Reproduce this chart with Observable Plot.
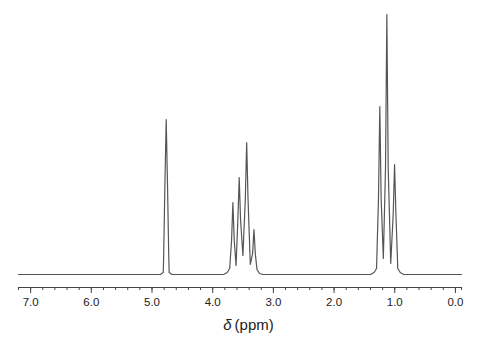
<!DOCTYPE html>
<html><head><meta charset="utf-8">
<script src="https://cdn.jsdelivr.net/npm/d3@7"></script>
<script src="https://cdn.jsdelivr.net/npm/@observablehq/plot@0.6"></script>
<style>
body{margin:0;background:#fff;}
#wrap{width:481px;font-family:"Liberation Sans",Arial,sans-serif;}
#xlabel{width:481px;height:28px;box-sizing:border-box;padding-left:16px;text-align:center;font-size:15px;line-height:30px;color:#222;}
</style></head><body>
<div id="wrap"><div id="chart"></div><div id="xlabel"><i>δ</i>&#8201;(ppm)</div></div>
<script>
// spectrum vertices (ppm, relative intensity)
const baselinePpm = [7.2, -0.1];
const baselineI = [0, 0];
const singletPpm = [4.86, 4.815, 4.808, 4.788, 4.766, 4.744, 4.724, 4.717, 4.67];
const singletI   = [0, 2, 18, 88, 155, 88, 18, 2, 0];
const quartetPpm = [3.82, 3.76, 3.72, 3.689, 3.667, 3.645, 3.615, 3.585, 3.563, 3.541, 3.502, 3.462, 3.440, 3.418, 3.380, 3.342, 3.320, 3.298, 3.27, 3.23, 3.17];
const quartetI   = [0, 2, 6, 34, 72, 34, 9, 55, 97, 55, 19, 76, 132, 76, 10, 21, 45, 21, 5, 1, 0];
const tripletPpm = [1.40, 1.34, 1.30, 1.268, 1.246, 1.224, 1.188, 1.152, 1.130, 1.108, 1.066, 1.025, 1.003, 0.981, 0.95, 0.91, 0.85];
const tripletI   = [0, 2, 6, 76, 168, 76, 16, 107, 260, 107, 11, 61, 110, 61, 6, 2, 0];
const majorTicks = [7, 6, 5, 4, 3, 2, 1, 0];
const minorTicks = [7.2, 7.0, 6.8, 6.6, 6.4, 6.2, 6.0, 5.8, 5.6, 5.4, 5.2, 5.0, 4.8, 4.6, 4.4, 4.2, 4.0, 3.8, 3.6, 3.4, 3.2, 3.0, 2.8, 2.6, 2.4, 2.2, 2.0, 1.8, 1.6, 1.4, 1.2, 1.0, 0.8, 0.6, 0.4, 0.2, 0.0, -0.1];

const pts = [];
const add = (xs, ys) => xs.forEach((x, i) => pts.push({ppm: x, I: ys[i]}));
add(baselinePpm, baselineI);
add(singletPpm, singletI);
add(quartetPpm, quartetI);
add(tripletPpm, tripletI);
pts.sort((a, b) => b.ppm - a.ppm);

const axisLevel = -13;

const chart = Plot.plot({
  width: 481,
  height: 310,
  marginLeft: 18,
  marginRight: 20,
  marginTop: 14,
  marginBottom: 23,
  style: {fontFamily: "'Liberation Sans', Arial, sans-serif", background: "#fff"},
  x: {domain: [7.2, -0.1]},
  y: {domain: [axisLevel, 260], axis: null},
  marks: [
    Plot.line(pts, {x: "ppm", y: "I", stroke: "#555", strokeWidth: 1.2}),
    Plot.ruleY([axisLevel], {stroke: "#444", strokeWidth: 1.2}),
    Plot.axisX(minorTicks, {tickSize: 3, tickFormat: () => "", stroke: "#444", label: null}),
    Plot.axisX(majorTicks, {tickSize: 6, tickPadding: 4, tickFormat: d => d.toFixed(1), fontSize: 11.5, fill: "#222", stroke: "#444", label: null})
  ]
});
document.getElementById("chart").appendChild(chart);
</script>
</body></html>
